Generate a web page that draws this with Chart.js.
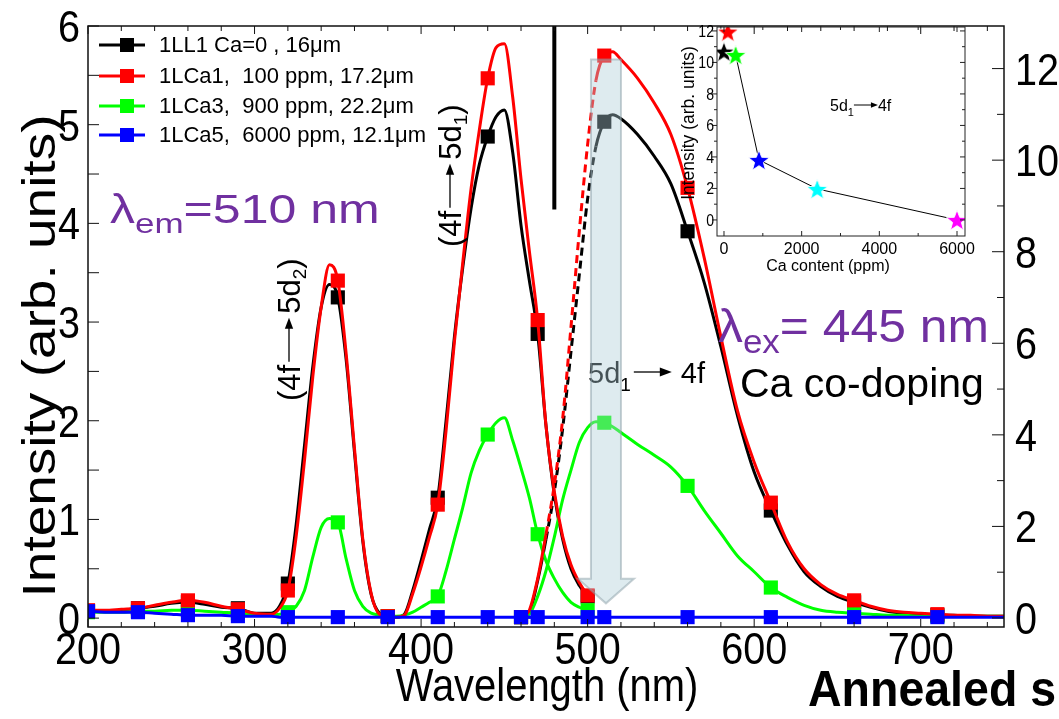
<!DOCTYPE html>
<html>
<head>
<meta charset="utf-8">
<script src="https://cdn.jsdelivr.net/npm/chart.js@4.4.1/dist/chart.umd.min.js"></script>
<style>
  html, body { margin:0; padding:0; background:#ffffff; }
  #wrap { position:relative; width:1059px; height:719px; overflow:hidden; background:#fff; }
  #main { position:absolute; left:0; top:0; }
  #inset { position:absolute; left:640px; top:10px; }
</style>
</head>
<body>
<div id="wrap">
  <canvas id="main" width="1059" height="719"></canvas>
  <canvas id="inset" width="340" height="270"></canvas>
</div>
<script>
// ---------------- DATA ----------------
const seriesNames  = ['1LL1 Ca=0 , 16\u03bcm', '1LCa1,  100 ppm, 17.2\u03bcm', '1LCa3,  900 ppm, 22.2\u03bcm', '1LCa5,  6000 ppm, 12.1\u03bcm'];
const seriesColors = ['#000000', '#ff0000', '#00ff00', '#0000ff'];

// excitation spectra (lambda_em = 510 nm)
const excWl = [200,210,220,230,240,250,260,270,280,290,300,310,
               315,320,325,330,335,340,345,350,355,360,
               365,370,375,380,385,390,395,400,405,410,
               415,420,425,430,435,440,445,450,455,460,
               465,470,475,480,485,490,495,500];
const excBlack = [0.07,0.07,0.08,0.10,0.12,0.15,0.16,0.14,0.11,0.10,0.05,0.05,
                  0.12,0.35,0.95,1.75,2.55,3.15,3.38,3.25,2.62,1.68,
                  0.78,0.24,0.05,0.02,0.01,0.04,0.28,0.58,0.90,1.22,
                  2.00,2.85,3.55,4.15,4.60,4.88,5.08,5.15,4.72,3.98,
                  3.42,2.88,1.95,1.25,0.80,0.50,0.33,0.22];
const excRed   = [0.08,0.08,0.09,0.10,0.13,0.16,0.18,0.16,0.12,0.09,0.05,0.04,
                  0.10,0.28,0.83,1.60,2.45,3.15,3.58,3.42,2.68,1.72,
                  0.80,0.25,0.04,0.02,0.01,0.03,0.25,0.52,0.82,1.15,
                  1.90,2.80,3.60,4.35,4.95,5.47,5.78,5.82,5.28,4.45,
                  3.72,3.02,1.95,1.28,0.83,0.54,0.36,0.23];
const excGreen = [0.06,0.06,0.06,0.07,0.07,0.08,0.08,0.07,0.06,0.05,0.03,0.03,
                  0.04,0.06,0.12,0.28,0.62,0.92,1.01,0.97,0.60,0.28,
                  0.12,0.05,0.03,0.02,0.02,0.03,0.06,0.11,0.16,0.22,
                  0.48,0.80,1.12,1.47,1.70,1.86,1.98,2.03,1.80,1.52,
                  1.22,0.85,0.58,0.40,0.26,0.16,0.11,0.08];
const excBlue  = [0.07,0.06,0.06,0.06,0.05,0.04,0.03,0.03,0.03,0.02,0.02,0.02,
                  0.01,0.01,0.01,0.01,0.01,0.01,0.01,0.01,0.01,0.01,
                  0.01,0.01,0.01,0.01,0.01,0.01,0.01,0.01,0.01,0.01,
                  0.01,0.01,0.01,0.01,0.01,0.01,0.01,0.01,0.01,0.01,
                  0.01,0.01,0.01,0.01,0.01,0.01,0.01,0.01];
const excMarkerWl = [200,230,260,290,320,350,380,410,440,470,500];

// emission spectra (lambda_ex = 445 nm)
const emWl = [460,465,470,475,480,485,490,495,500,505,510,515,520,
              530,540,550,560,570,580,590,600,610,620,630,640,650,
              660,670,680,690,700,710,720,730,740,750];
const emBlack = [0.01,0.06,0.38,0.80,1.28,1.92,2.70,3.48,4.25,4.78,5.03,5.10,5.06,
                 4.90,4.68,4.40,3.92,3.40,2.75,2.05,1.48,1.09,0.74,0.47,0.32,0.22,
                 0.16,0.11,0.07,0.05,0.04,0.03,0.03,0.02,0.02,0.02];
const emRed   = [0.01,0.08,0.40,0.85,1.35,2.02,2.95,3.92,4.80,5.45,5.70,5.74,5.66,
                 5.47,5.22,4.90,4.36,3.65,2.85,2.10,1.58,1.17,0.77,0.50,0.34,0.24,
                 0.18,0.12,0.08,0.06,0.05,0.04,0.03,0.03,0.02,0.02];
const emGreen = [0.01,0.04,0.22,0.48,0.82,1.20,1.50,1.78,1.93,1.99,1.98,1.94,1.88,
                 1.76,1.65,1.53,1.34,1.09,0.86,0.63,0.47,0.31,0.21,0.13,0.08,0.06,
                 0.05,0.04,0.03,0.03,0.02,0.02,0.02,0.02,0.02,0.02];
const emBlue  = [0.01,0.01,0.01,0.01,0.01,0.01,0.01,0.01,0.01,0.01,0.01,0.01,0.01,
                 0.01,0.01,0.01,0.01,0.01,0.01,0.01,0.01,0.01,0.01,0.01,0.01,0.01,
                 0.01,0.01,0.01,0.01,0.01,0.01,0.01,0.01,0.01,0.01];
const emMarkerWl = [460,510,560,610,660,710];
const dashedRange = [475, 505];          // dashed part of the emission rise (black, red)

// vertical separator line (x in nm, y range)
const sepLineWl = 480;
const sepLineY  = [4.14, 6.0];

// big "5d1 -> 4f" arrow (nm, intensity)
const bigArrowWl = 511;
const bigArrowY  = [5.66, 0.40, 0.15];   // shaft top, head base, tip

// axes
const xTicks     = [200,300,400,500,600,700];
const leftTicks  = [0,1,2,3,4,5,6];
const rightTicks = [0,2,4,6,8,10,12];

// inset: integrated 5d1->4f intensity vs Ca content
const insetPpm    = [0, 100, 300, 900, 2400, 6000];
const insetInt    = [10.69, 11.96, 10.48, 3.81, 1.97, 0.0];
const insetColors = ['#000000', '#ff0000', '#00ff00', '#0000ff', '#00ffff', '#ff00ff'];
const insetXTicks = [0, 2000, 4000, 6000];
const insetYTicks = [0, 2, 4, 6, 8, 10, 12];

// ---------------- HELPERS ----------------
const F  = "'Liberation Sans', Arial, Helvetica, sans-serif";
const PURPLE = '#7030a0';

function xy(xs, ys) { return xs.map((x, i) => ({ x: x, y: ys[i] })); }

function drawRich(ctx, parts, x, y) {
  let cx = x;
  for (const p of parts) {
    if (p.gap) { cx += p.gap; continue; }
    if (p.arrow) {
      const ay = y + (p.dy || 0), head = p.head || 10;
      ctx.strokeStyle = p.color || '#000'; ctx.fillStyle = p.color || '#000';
      ctx.lineWidth = p.lw || 1.5;
      ctx.beginPath(); ctx.moveTo(cx, ay); ctx.lineTo(cx + p.arrow - head + 1, ay); ctx.stroke();
      ctx.beginPath(); ctx.moveTo(cx + p.arrow, ay);
      ctx.lineTo(cx + p.arrow - head, ay - head * 0.38);
      ctx.lineTo(cx + p.arrow - head, ay + head * 0.38);
      ctx.closePath(); ctx.fill();
      cx += p.arrow; continue;
    }
    ctx.font = p.font; ctx.fillStyle = p.color || '#000';
    ctx.fillText(p.t, cx, y + (p.dy || 0));
    cx += ctx.measureText(p.t).width;
  }
}

// text squeezed horizontally (sx < 1) to mimic the condensed face of the figure
function textScaled(ctx, t, x, y, font, sx, align) {
  ctx.save();
  ctx.translate(x, y); ctx.scale(sx, 1);
  ctx.font = font; ctx.textAlign = align || 'left'; ctx.textBaseline = 'alphabetic';
  ctx.fillText(t, 0, 0);
  ctx.restore();
}

function starCanvas(color, r) {
  const s = Math.ceil(2 * r + 4);
  const c = document.createElement('canvas'); c.width = s; c.height = s;
  const g = c.getContext('2d');
  g.translate(s / 2, s / 2 + r * 0.1);
  g.beginPath();
  for (let i = 0; i < 10; i++) {
    const rad = (i % 2) ? r * 0.42 : r;
    const a = -Math.PI / 2 + i * Math.PI / 5;
    g.lineTo(rad * Math.cos(a), rad * Math.sin(a));
  }
  g.closePath();
  g.fillStyle = color; g.fill();
  g.lineWidth = 1; g.strokeStyle = 'rgba(255,255,255,0.9)'; g.stroke();
  return c;
}

// ---------------- MAIN CHART ----------------
function specDataset(label, color, xs, ys, markers, dashed) {
  const ds = {
    label: label,
    data: xy(xs, ys),
    borderColor: color,
    backgroundColor: color,
    borderWidth: 3,
    cubicInterpolationMode: 'monotone',
    pointStyle: 'rect',
    pointRadius: c => (c.raw && markers.includes(c.raw.x)) ? 10 : 0,
    pointHoverRadius: 0,
    pointBackgroundColor: color,
    pointBorderColor: color,
    pointBorderWidth: 0,
    fill: false
  };
  if (dashed) {
    ds.segment = {
      borderDash: c => (c.p0.parsed.x >= dashedRange[0] && c.p1.parsed.x <= dashedRange[1]) ? [8, 5] : undefined
    };
  }
  return ds;
}

const datasets = [
  { label: 'sep', data: [{ x: sepLineWl, y: sepLineY[0] }, { x: sepLineWl, y: sepLineY[1] }],
    borderColor: '#000', borderWidth: 4, pointRadius: 0, borderCapStyle: 'butt' },
  specDataset(seriesNames[3], seriesColors[3], excWl, excBlue,  excMarkerWl, false),
  specDataset(seriesNames[3], seriesColors[3], emWl,  emBlue,   emMarkerWl,  false),
  specDataset(seriesNames[1], seriesColors[1], excWl, excRed,   excMarkerWl, false),
  specDataset(seriesNames[1], seriesColors[1], emWl,  emRed,    emMarkerWl,  true),
  specDataset(seriesNames[2], seriesColors[2], excWl, excGreen, excMarkerWl, false),
  specDataset(seriesNames[2], seriesColors[2], emWl,  emGreen,  emMarkerWl,  false),
  specDataset(seriesNames[0], seriesColors[0], excWl, excBlack, excMarkerWl, false),
  specDataset(seriesNames[0], seriesColors[0], emWl,  emBlack,  emMarkerWl,  true)
];

const TICKFONT = '45px ' + F;
const TICKSX = 0.88;

const mainDeco = {
  id: 'mainDeco',
  afterDatasetsDraw(chart) {
    const { ctx, chartArea: a, scales } = chart;
    const X = scales.x, Y = scales.y, Y2 = scales.y2;
    ctx.save();
    ctx.textAlign = 'left'; ctx.textBaseline = 'alphabetic';
    const line = (x0, y0, x1, y1) => { ctx.beginPath(); ctx.moveTo(x0, y0); ctx.lineTo(x1, y1); ctx.stroke(); };

    // frame and tick marks
    ctx.strokeStyle = '#111'; ctx.lineWidth = 1.5;
    ctx.strokeRect(a.left, a.top, a.right - a.left, a.bottom - a.top);
    ctx.lineWidth = 1;
    for (let v = 200; v <= 750; v += 20) {
      const px = X.getPixelForValue(v), len = (v % 100 === 0) ? 8 : 5;
      line(px, a.bottom, px, a.bottom - len);
      line(px, a.top, px, a.top + len);
    }
    for (let v = 0; v <= 6.001; v += 0.5) {
      const py = Y.getPixelForValue(v);
      line(a.left, py, a.left + 11, py);
    }
    for (let v = 0; v <= 12; v += 1) {
      const py = Y2.getPixelForValue(v);
      line(a.right, py, a.right - ((v % 2 === 0) ? 12 : 7), py);
    }

    // tick labels (condensed face), positioned by the chart's scales
    ctx.fillStyle = '#000';
    for (const t of X.ticks) textScaled(ctx, String(t.value), X.getPixelForValue(t.value), a.bottom + 37, TICKFONT, TICKSX, 'center');
    for (const t of Y.ticks) textScaled(ctx, String(t.value), a.left - 8, Y.getPixelForValue(t.value) + 16, TICKFONT, TICKSX, 'right');
    for (const t of Y2.ticks) textScaled(ctx, String(t.value), a.right + 11, Y2.getPixelForValue(t.value) + 16, TICKFONT, TICKSX, 'left');

    // legend
    const rowY = [45, 76, 106, 135];
    for (let i = 0; i < 4; i++) {
      const c = seriesColors[i], yy = rowY[i];
      ctx.strokeStyle = c; ctx.lineWidth = 3;
      line(99, yy, 145, yy);
      ctx.fillStyle = c; ctx.fillRect(120, yy - 7, 14, 14);
      ctx.font = '22px ' + F; ctx.fillStyle = '#000';
      ctx.textBaseline = 'middle';
      ctx.fillText(seriesNames[i], 159, yy + 1);
      ctx.textBaseline = 'alphabetic';
    }

    // lambda_em = 510 nm
    ctx.save();
    ctx.translate(110, 223); ctx.scale(1.25, 1);
    drawRich(ctx, [
      { t: '\u03bb', font: '40px ' + F, color: PURPLE },
      { t: 'em', font: '28px ' + F, color: PURPLE, dy: 10 },
      { t: '=510 nm', font: '40px ' + F, color: PURPLE }
    ], 0, 0);
    ctx.restore();

    // rotated (4f -> 5d2) and (4f -> 5d1)
    const rot = (bx, by, sub) => {
      ctx.save(); ctx.translate(bx, by); ctx.rotate(-Math.PI / 2);
      drawRich(ctx, [
        { t: '(4f', font: '31px ' + F },
        { gap: 3 },
        { arrow: 44, dy: -11, head: 11, lw: 1.3 },
        { gap: 4 },
        { t: '5d', font: '31px ' + F },
        { t: sub, font: '19px ' + F, dy: 6 },
        { t: ')', font: '31px ' + F }
      ], 0, 0);
      ctx.restore();
    };
    rot(300, 401, '2');
    rot(461, 247, '1');

    // 5d1 -> 4f
    drawRich(ctx, [
      { t: '5d', font: '29px ' + F },
      { t: '1', font: '19px ' + F, dy: 8 },
      { gap: 3 },
      { arrow: 38, dy: -11, head: 12, lw: 1.3 },
      { gap: 9 },
      { t: '4f', font: '29px ' + F }
    ], 588, 383);

    // lambda_ex = 445 nm
    ctx.save();
    ctx.translate(718, 342); ctx.scale(1.06, 1);
    drawRich(ctx, [
      { t: '\u03bb', font: '47px ' + F, color: PURPLE },
      { t: 'ex', font: '33px ' + F, color: PURPLE, dy: 11 },
      { t: '= 445 nm', font: '47px ' + F, color: PURPLE }
    ], 0, 0);
    ctx.restore();
    ctx.font = '41px ' + F; ctx.fillStyle = '#000';
    ctx.fillText('Ca co-doping', 740, 397);

    // big translucent arrow
    const ax = X.getPixelForValue(bigArrowWl);
    const yTop = Y.getPixelForValue(bigArrowY[0]);
    const yHead = Y.getPixelForValue(bigArrowY[1]);
    const yTip = Y.getPixelForValue(bigArrowY[2]);
    ctx.beginPath();
    ctx.moveTo(ax - 15, yTop); ctx.lineTo(ax + 15, yTop); ctx.lineTo(ax + 15, yHead);
    ctx.lineTo(ax + 28, yHead); ctx.lineTo(ax, yTip); ctx.lineTo(ax - 28, yHead);
    ctx.lineTo(ax - 15, yHead); ctx.closePath();
    ctx.fillStyle = 'rgba(172,206,216,0.40)'; ctx.fill();
    ctx.strokeStyle = 'rgba(140,160,168,0.5)'; ctx.lineWidth = 2; ctx.stroke();

    // axis titles
    ctx.fillStyle = '#000';
    ctx.save(); ctx.translate(55, 356); ctx.rotate(-Math.PI / 2); ctx.scale(1.17, 1);
    ctx.textAlign = 'center'; ctx.font = '47px ' + F;
    ctx.fillText('Intensity (arb. units)', 0, 0);
    ctx.restore();
    textScaled(ctx, 'Wavelength (nm)', 547, 701, '47px ' + F, 0.85, 'center');
    textScaled(ctx, 'Annealed s', 808, 706, 'bold 50px ' + F, 0.93, 'left');
    ctx.restore();
  }
};

new Chart(document.getElementById('main'), {
  type: 'line',
  data: { datasets: datasets },
  options: {
    responsive: false, animation: false, devicePixelRatio: 1,
    events: [],
    layout: { padding: { top: 26, left: 0, right: 0, bottom: 0 } },
    plugins: { legend: { display: false }, tooltip: { enabled: false } },
    scales: {
      x: {
        type: 'linear', min: 200, max: 750,
        afterBuildTicks: s => { s.ticks = xTicks.map(v => ({ value: v })); },
        afterFit: s => { s.height = 92; },
        grid: { display: false, drawTicks: false }, border: { display: false },
        ticks: { display: false }
      },
      y: {
        type: 'linear', position: 'left', min: -0.09, max: 6,
        afterBuildTicks: s => { s.ticks = leftTicks.map(v => ({ value: v })); },
        afterFit: s => { s.width = 88; },
        grid: { display: false, drawTicks: false }, border: { display: false },
        ticks: { display: false }
      },
      y2: {
        type: 'linear', position: 'right', min: -0.197, max: 12.93,
        afterBuildTicks: s => { s.ticks = rightTicks.map(v => ({ value: v })); },
        afterFit: s => { s.width = 55; },
        grid: { display: false, drawTicks: false }, border: { display: false },
        ticks: { display: false }
      }
    }
  },
  plugins: [mainDeco]
});

// ---------------- INSET CHART ----------------
const insetDeco = {
  id: 'insetDeco',
  afterDatasetsDraw(chart) {
    const { ctx, chartArea: a, scales: { x: X, y: Y } } = chart;
    ctx.save();
    const line = (x0, y0, x1, y1) => { ctx.beginPath(); ctx.moveTo(x0, y0); ctx.lineTo(x1, y1); ctx.stroke(); };
    ctx.strokeStyle = '#222'; ctx.lineWidth = 1;
    ctx.strokeRect(a.left, a.top, a.right - a.left, a.bottom - a.top);
    for (let v = 0; v <= 12; v += 1) {
      const py = Y.getPixelForValue(v), len = (v % 2 === 0) ? 5 : 3;
      line(a.left, py, a.left - len, py);
      line(a.right, py, a.right - len, py);
    }
    for (let v = 0; v <= 6000; v += 1000) {
      const px = X.getPixelForValue(v), len = (v % 2000 === 0) ? 5 : 3;
      line(px, a.bottom, px, a.bottom - len);
      line(px, a.top, px, a.top + len);
    }
    ctx.fillStyle = '#000';
    for (const t of X.ticks) textScaled(ctx, String(t.value), X.getPixelForValue(t.value), a.bottom + 18, '16px ' + F, 1, 'center');
    for (const t of Y.ticks) textScaled(ctx, String(t.value), a.left - 3, Y.getPixelForValue(t.value) + 6, '16px ' + F, 0.88, 'right');
    ctx.textAlign = 'center'; ctx.textBaseline = 'alphabetic';
    ctx.font = '16px ' + F;
    ctx.fillText('Ca content (ppm)', 188, 261);
    ctx.save(); ctx.translate(54, 113); ctx.rotate(-Math.PI / 2);
    ctx.font = '17.5px ' + F;
    ctx.fillText('Intensity (arb. units)', 0, 0);
    ctx.restore();
    ctx.textAlign = 'left';
    drawRich(ctx, [
      { t: '5d', font: '16px ' + F },
      { t: '1', font: '11px ' + F, dy: 5 },
      { arrow: 24, dy: -6, head: 7, lw: 1 },
      { t: '4f', font: '16px ' + F }
    ], 190, 101);
    ctx.restore();
  }
};

new Chart(document.getElementById('inset'), {
  type: 'line',
  data: {
    datasets: [{
      label: 'inset',
      data: xy(insetPpm, insetInt),
      borderColor: '#000', borderWidth: 1,
      segment: { borderColor: c => (c.p0DataIndex < 2) ? 'rgba(0,0,0,0)' : '#000' },
      pointStyle: insetColors.map(c => starCanvas(c, 11)),
      pointRadius: 10, pointHoverRadius: 10,
      tension: 0, fill: false
    }]
  },
  options: {
    responsive: false, animation: false, devicePixelRatio: 1,
    events: [],
    layout: { padding: { top: 17, left: 0, right: 15, bottom: 0 } },
    plugins: { legend: { display: false }, tooltip: { enabled: false } },
    scales: {
      x: {
        type: 'linear', min: -180, max: 6206,
        afterBuildTicks: s => { s.ticks = insetXTicks.map(v => ({ value: v })); },
        afterFit: s => { s.height = 44; },
        grid: { display: false, drawTicks: false }, border: { display: false },
        ticks: { display: false }
      },
      y: {
        type: 'linear', min: -1.02, max: 12.25,
        afterBuildTicks: s => { s.ticks = insetYTicks.map(v => ({ value: v })); },
        afterFit: s => { s.width = 77; },
        grid: { display: false, drawTicks: false }, border: { display: false },
        ticks: { display: false }
      }
    }
  },
  plugins: [insetDeco]
});
</script>
</body>
</html>
